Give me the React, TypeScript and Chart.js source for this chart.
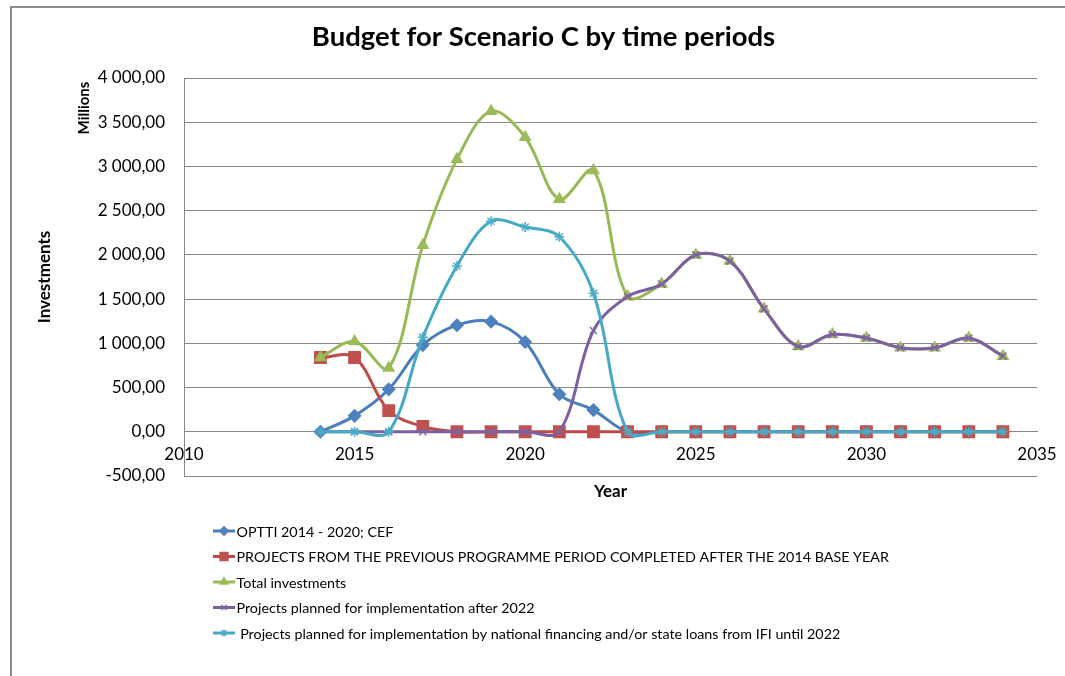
import React, { useEffect, useRef } from "react";
import { Chart, registerables } from "chart.js";
import { drawPoint } from "chart.js/helpers";

Chart.register(...registerables);

const years = [2014, 2015, 2016, 2017, 2018, 2019, 2020, 2021, 2022, 2023, 2024, 2025, 2026, 2027, 2028, 2029, 2030, 2031, 2032, 2033, 2034];

const opttiCef = [0, 180, 480, 980, 1205, 1245, 1015, 425, 245, 0, 0, 0, 0, 0, 0, 0, 0, 0, 0, 0, 0];
const previousProgramme = [840, 840, 240, 60, 0, 0, 0, 0, 0, 0, 0, 0, 0, 0, 0, 0, 0, 0, 0, 0, 0];
const totalInvestments = [840, 1020, 720, 2110, 3080, 3625, 3330, 2630, 2955, 1530, 1670, 2000, 1930, 1390, 965, 1100, 1060, 950, 950, 1060, 855];
const afterYear2022 = [0, 0, 0, 0, 0, 0, 0, 0, 1145, 1530, 1670, 2000, 1930, 1390, 965, 1100, 1060, 950, 950, 1060, 855];
const nationalUntil2022 = [0, 0, 0, 1070, 1875, 2380, 2315, 2205, 1565, 0, 0, 0, 0, 0, 0, 0, 0, 0, 0, 0, 0];

const seriesLabels = [
  "OPTTI 2014 - 2020; CEF",
  "PROJECTS FROM THE PREVIOUS PROGRAMME PERIOD COMPLETED AFTER THE 2014 BASE YEAR",
  "Total investments",
  "Projects planned for implementation after 2022",
  " Projects planned for implementation by national financing and/or state loans from IFI until 2022",
];

const chartTitle = "Budget for Scenario C by time periods";
const yTitle = "Investments";
const yUnit = "Millions";
const xTitle = "Year";

const FONT = "Lato, 'Noto Sans', sans-serif";

const seriesStyles = [
  { line: "#4A7EBB", fill: "#4F81BD", point: "rectRot", radius: 6 },
  { line: "#BE4B48", fill: "#C0504D", point: "rect", radius: 8 },
  { line: "#98B954", fill: "#9BBB59", point: "triangle", radius: 6 },
  { line: "#7D60A0", fill: "#8064A2", point: "crossRot", radius: 5 },
  { line: "#46AAC5", fill: "#4BACC6", point: "star", radius: 5 },
];

const fmtY = (v: number) => {
  const neg = v < 0;
  const a = Math.round(Math.abs(v));
  const s = a.toString().replace(/\B(?=(\d{3})+(?!\d))/g, " ");
  return (neg ? "-" : "") + s + ",00";
};

const overlayPlugin = {
  id: "overlay",
  afterDraw(chart: any) {
    const ctx = chart.ctx as CanvasRenderingContext2D;
    const ca = chart.chartArea;
    ctx.save();
    ctx.fillStyle = "#000";
    // y axis title
    ctx.save();
    ctx.translate(33, (ca.top + ca.bottom) / 2);
    ctx.rotate(-Math.PI / 2);
    ctx.font = `bold 17px ${FONT}`;
    ctx.textAlign = "center";
    ctx.textBaseline = "middle";
    ctx.fillText(yTitle, 0, 0);
    ctx.restore();
    // units
    ctx.save();
    ctx.translate(72, 100);
    ctx.rotate(-Math.PI / 2);
    ctx.font = `bold 15px ${FONT}`;
    ctx.textAlign = "center";
    ctx.textBaseline = "middle";
    ctx.fillText(yUnit, 0, 0);
    ctx.restore();
    // legend
    const top = 523;
    const step = 25.5;
    ctx.font = `14.3px ${FONT}`;
    ctx.textAlign = "left";
    ctx.textBaseline = "middle";
    seriesLabels.forEach((label, i) => {
      const y = top + i * step;
      const st = seriesStyles[i];
      ctx.strokeStyle = st.line;
      ctx.lineWidth = 3;
      ctx.beginPath();
      ctx.moveTo(201, y);
      ctx.lineTo(223, y);
      ctx.stroke();
      ctx.fillStyle = st.fill;
      ctx.strokeStyle = st.fill;
      ctx.lineWidth = 1.5;
      drawPoint(ctx, { pointStyle: st.point as any, radius: st.radius * 0.7, rotation: 0, borderWidth: 1.5 } as any, 212, y);
      ctx.fillStyle = "#000";
      ctx.fillText(label, 224.5, y + 1);
    });
    ctx.restore();
  },
};

export default function App() {
  const ref = useRef<HTMLCanvasElement>(null);
  useEffect(() => {
    if (!ref.current) return;
    const allSeries = [opttiCef, previousProgramme, totalInvestments, afterYear2022, nationalUntil2022];
    const chart = new Chart(ref.current, {
      type: "line",
      data: {
        datasets: allSeries.map((arr, i) => ({
          label: seriesLabels[i],
          data: years.map((x, j) => ({ x, y: arr[j] })),
          borderColor: seriesStyles[i].line,
          backgroundColor: seriesStyles[i].fill,
          pointBackgroundColor: seriesStyles[i].fill,
          pointBorderColor: seriesStyles[i].fill,
          pointBorderWidth: 1.5,
          pointStyle: seriesStyles[i].point as any,
          pointRadius: seriesStyles[i].radius,
          borderWidth: 3,
          tension: 0.35,
          fill: false,
          order: 4 - i,
        })),
      },
      options: {
        responsive: false,
        animation: false,
        devicePixelRatio: 1,
        layout: { padding: { left: 38, right: 20, top: 0, bottom: 187 } },
        plugins: {
          legend: { display: false },
          tooltip: { enabled: false },
          title: {
            display: true,
            text: chartTitle,
            color: "#000",
            font: { family: FONT, size: 27.5, weight: "bold" },
            padding: { top: 13, bottom: 24 },
          },
        },
        scales: {
          x: {
            type: "linear",
            min: 2010,
            max: 2035,
            position: { y: 0 } as any,
            ticks: {
              stepSize: 5,
              callback: (v: any) => String(v),
              color: "#000",
              font: { family: FONT, size: 17 },
              padding: 0,
              maxRotation: 0,
              autoSkip: false,
            },
            grid: {
              display: true,
              drawOnChartArea: false,
              drawTicks: true,
              tickLength: 13,
              color: "rgba(0,0,0,0)",
            },
            border: { display: true, color: "#868686", width: 1 },
            title: {
              display: true,
              text: xTitle,
              color: "#000",
              font: { family: FONT, size: 17, weight: "bold" },
              padding: { top: 16, bottom: 0 },
            },
          },
          y: {
            type: "linear",
            min: -500,
            max: 4000,
            ticks: {
              stepSize: 500,
              callback: (v: any) => fmtY(Number(v)),
              color: "#000",
              font: { family: FONT, size: 17 },
              padding: 19,
            },
            grid: { color: "#868686", lineWidth: 1, drawTicks: false },
            border: { display: true, color: "#868686", width: 1 },
            afterFit: (s: any) => {
              s.width = 134;
            },
          },
        },
      },
      plugins: [overlayPlugin],
    });
    return () => chart.destroy();
  }, []);
  return (
    <div style={{ marginLeft: 4, width: 1045, height: 655, background: "#fff" }}>
      <div
        style={{
          position: "fixed",
          left: 10,
          top: 6,
          width: 1200,
          height: 800,
          borderLeft: "2px solid #8c8c8c",
          borderTop: "2px solid #8c8c8c",
          pointerEvents: "none",
        }}
      />
      <canvas ref={ref} width={1045} height={655} style={{ display: "block" }} />
    </div>
  );
}
